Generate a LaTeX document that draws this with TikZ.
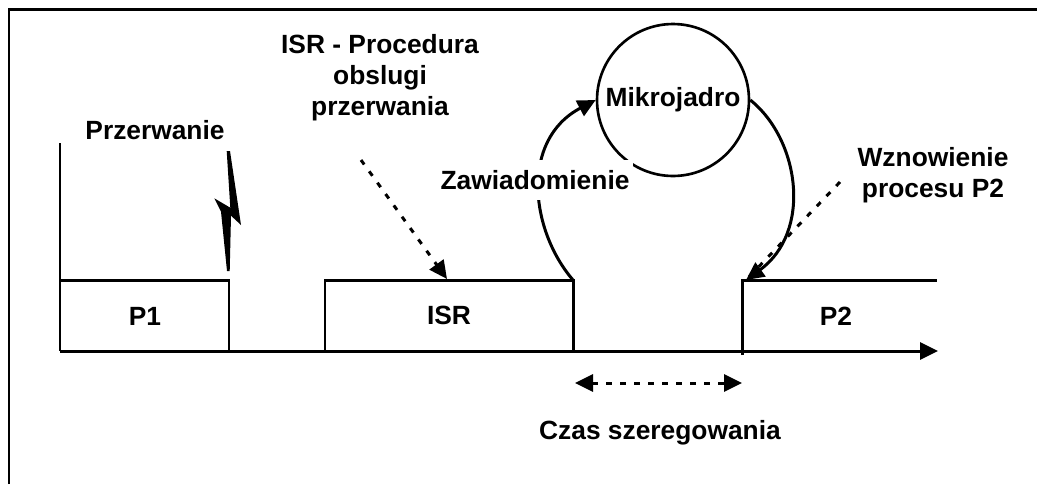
\documentclass[tikz,border=0pt]{standalone}
\usepackage{fontspec}
\setmainfont{Liberation Sans}
\usepackage{tikz}
\usetikzlibrary{arrows.meta,shapes}
\tikzstyle{every node}=[font=\bfseries\fontsize{15}{17.6}\selectfont]
\tikzstyle{thick line}=[line width=1.7pt]
\tikzstyle{dashed arrow}=[line width=1.7pt,dash pattern=on 0.11cm off 0.17cm]
\tikzstyle{kernel}=[circle,draw,line width=1.5pt,minimum size=3.04cm,inner sep=0pt]
\newcommand{\frameline}[2]{
  \draw[line width=1.4pt] (9, #1) -- (9, 9.5) -- (#2, 9.5);
}

\begin{document}
\begin{tikzpicture}[x=0.02cm, y=-0.02cm, >={Triangle[length=0.36cm,width=0.34cm]}]
\useasboundingbox (0, 0) rectangle (1037, 484);
\frameline{484}{1037}
% time axis and process boxes
\draw[thick line] (60, 143) -- (60, 351);
\draw[thick line] (60, 280) -- (229, 280) -- (229, 351);
\draw[thick line] (325, 351) -- (325, 280) -- (573, 280) -- (573, 351);
\draw[thick line] (742, 355) -- (742, 280) -- (937, 280);
\draw[thick line, ->] (60, 351) -- (938, 351);
\node (p1) at (145, 316) {P1};
\node (isr) at (449, 315) {ISR};
\node (p2) at (836, 316) {P2};
% interrupt
\node (przerwanie) at (155, 130) {Przerwanie};
\fill
  (226.7, 151)
   -- (230, 151)
   -- (241, 225)
   -- (231, 215.7)
   -- (229.7, 271)
   -- (227, 271)
   -- (221, 211.7)
   -- (214.3, 198.3)
   -- (230.3, 207.7)
   -- cycle;
% ISR
\node[align=center] (isrlabel) at (380, 78) {ISR - Procedura\\obslugi\\przerwania};
\coordinate (isrfrom) at (361, 160);
\coordinate (isrto) at (447, 279);
\draw[dashed arrow, ->] (isrfrom) -- (isrto);
% microkernel
\node[kernel] (mk) at (673, 100) {Mikrojadro};
\coordinate (isrend) at (573, 280);
\coordinate (p2start) at (746, 280);
\draw[thick line, ->] (isrend) .. controls (530, 230) and (520, 140) .. (mk.west);
\draw[thick line, ->] (mk.east) .. controls (800, 140) and (812, 232) .. (p2start);
\node[fill=white, inner xsep=2pt, inner ysep=6pt] (zaw) at (535, 180) {Zawiadomienie};
% resume
\node[align=center] (wzn) at (933, 175) {Wznowienie\\procesu P2};
\coordinate (wznfrom) at (840, 182);
\draw[dashed arrow] (wznfrom) -- (p2start);
% scheduling time
\coordinate (czasl) at (575, 383);
\coordinate (czasr) at (742, 383);
\draw[dashed arrow, <->] (czasl) -- (czasr);
\node (czas) at (660, 433) {Czas szeregowania};
\end{tikzpicture}
\end{document}
